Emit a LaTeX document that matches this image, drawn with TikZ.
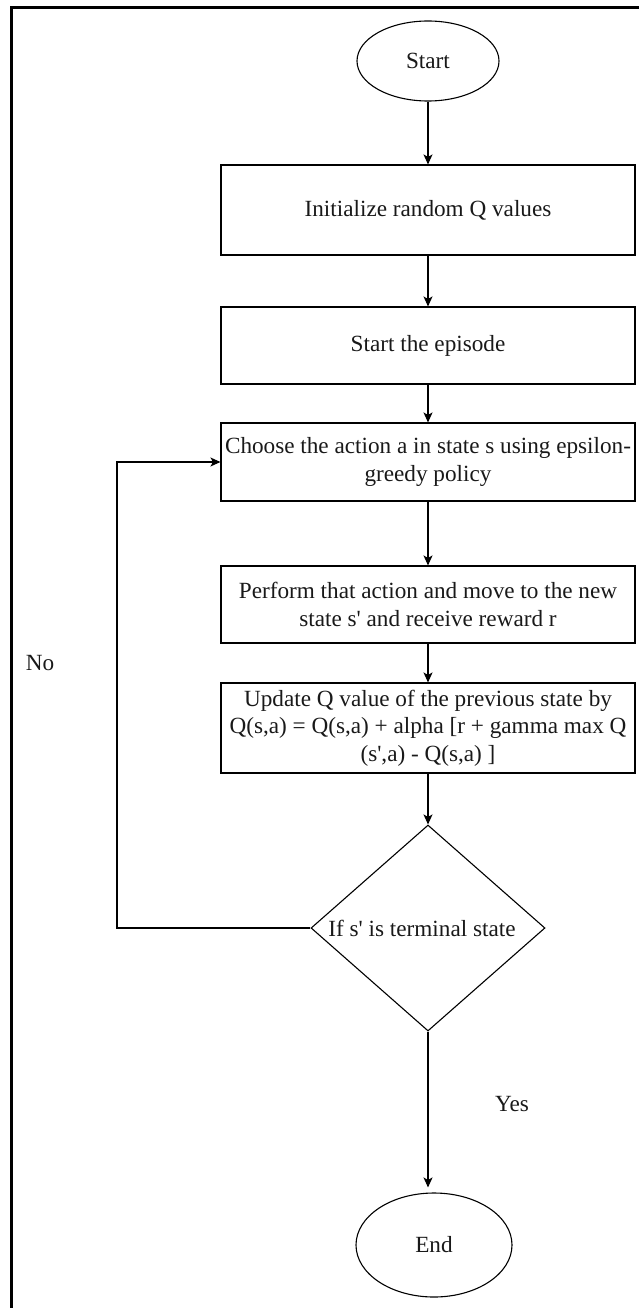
\documentclass[tikz,border=0pt]{standalone}
\usepackage{fontspec}
\newfontfamily\lib{Liberation Serif}
\usetikzlibrary{shapes.geometric,arrows.meta}
\begin{document}
\begin{tikzpicture}[x=1pt,y=-1pt,
  every node/.style={font=\lib\fontsize{23.2}{27.3}\selectfont, text=black!90},
  shapeline/.style={draw, line width=1.1pt},
  box/.style={shapeline, minimum width=414pt, inner sep=0pt, align=center},
  term/.style={shapeline, ellipse, inner sep=0pt},
  conn/.style={line width=1.1pt, -{Stealth[length=10pt,width=9pt,inset=2.5pt]}},
  frame/.style={line width=3pt}
]
\useasboundingbox (0,0) rectangle (639,1308);
\draw[frame] (641,8) -- (11,8) -- (11,1310);

\node[term, minimum width=142pt, minimum height=80pt] (start) at (428,61) {Start};
\node[box, minimum height=90pt] (init) at (428,210) {Initialize random Q values};
\node[box, minimum height=77pt] (epi) at (428,345.5) {Start the episode};
\node[box, minimum height=78pt] (choose) at (428,462) {Choose the action a in state s using epsilon-\\greedy policy};
\node[box, minimum height=77pt] (perform) at (428,604.5) {Perform that action and move to the new\\state s' and receive reward r};
\node[box, minimum height=90pt] (update) at (428,728) {Update Q value of the previous state by\\Q(s,a) = Q(s,a) + alpha [r + gamma max Q\\(s',a) - Q(s,a) ]};
\node[shapeline, diamond, minimum width=234pt, minimum height=206pt, inner sep=0pt] (dec) at (428,928) {};
\node (dectext) at (422,928) {If s' is terminal state};
\node[term, minimum width=156pt, minimum height=104pt] (end) at (434,1245) {End};
\node (yes) at (512,1104) {Yes};
\node (no) at (40,663) {No};
\coordinate (loop) at (117,928);

\draw[conn] (start) -- (init);
\draw[conn] (init) -- (epi);
\draw[conn] (epi) -- (choose);
\draw[conn] (choose) -- (perform);
\draw[conn] (perform) -- (update);
\draw[conn] (update) -- (dec);
\draw[conn, shorten >=5pt] (dec.south) -- (dec.south |- end.north);
\draw[conn] (dec.west) -- (loop) |- (choose.west);
\end{tikzpicture}
\end{document}
